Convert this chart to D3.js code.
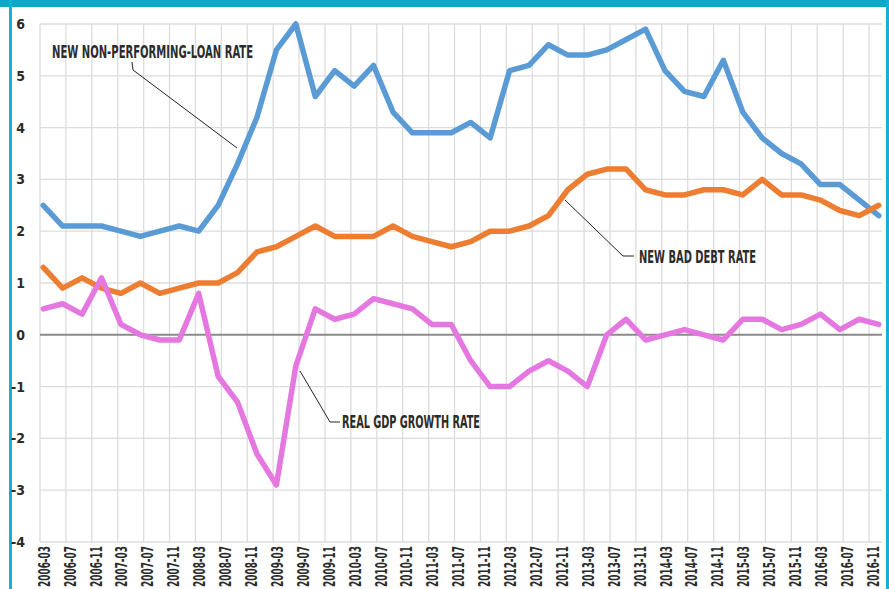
<!DOCTYPE html>
<html>
<head>
<meta charset="utf-8">
<script src="https://cdn.jsdelivr.net/npm/d3@7"></script>
<style>
  body { margin: 0; background: #fff; }
  text { font-family: "Liberation Sans Narrow", "DejaVu Sans Condensed", "Roboto", sans-serif; font-weight: bold; fill: #2b2b2b; }
</style>
</head>
<body>
<script>
// quarterly observations
const quarters = [
  "2006-03","2006-06","2006-09","2006-12","2007-03","2007-06","2007-09","2007-12",
  "2008-03","2008-06","2008-09","2008-12","2009-03","2009-06","2009-09","2009-12",
  "2010-03","2010-06","2010-09","2010-12","2011-03","2011-06","2011-09","2011-12",
  "2012-03","2012-06","2012-09","2012-12","2013-03","2013-06","2013-09","2013-12",
  "2014-03","2014-06","2014-09","2014-12","2015-03","2015-06","2015-09","2015-12",
  "2016-03","2016-06","2016-09","2016-12"
];
const nplRate = [
  2.5, 2.1, 2.1, 2.1, 2.0, 1.9, 2.0, 2.1, 2.0, 2.5, 3.3, 4.2, 5.5, 6.0, 4.6, 5.1,
  4.8, 5.2, 4.3, 3.9, 3.9, 3.9, 4.1, 3.8, 5.1, 5.2, 5.6, 5.4, 5.4, 5.5, 5.7, 5.9,
  5.1, 4.7, 4.6, 5.3, 4.3, 3.8, 3.5, 3.3, 2.9, 2.9, 2.6, 2.3
];
const badDebtRate = [
  1.3, 0.9, 1.1, 0.9, 0.8, 1.0, 0.8, 0.9, 1.0, 1.0, 1.2, 1.6, 1.7, 1.9, 2.1, 1.9,
  1.9, 1.9, 2.1, 1.9, 1.8, 1.7, 1.8, 2.0, 2.0, 2.1, 2.3, 2.8, 3.1, 3.2, 3.2, 2.8,
  2.7, 2.7, 2.8, 2.8, 2.7, 3.0, 2.7, 2.7, 2.6, 2.4, 2.3, 2.5
];
const gdpGrowth = [
  0.5, 0.6, 0.4, 1.1, 0.2, 0.0, -0.1, -0.1, 0.8, -0.8, -1.3, -2.3, -2.9, -0.6, 0.5, 0.3,
  0.4, 0.7, 0.6, 0.5, 0.2, 0.2, -0.5, -1.0, -1.0, -0.7, -0.5, -0.7, -1.0, 0.0, 0.3, -0.1,
  0.0, 0.1, 0.0, -0.1, 0.3, 0.3, 0.1, 0.2, 0.4, 0.1, 0.3, 0.2
];
const xTickLabels = [
  "2006-03","2006-07","2006-11","2007-03","2007-07","2007-11","2008-03","2008-07",
  "2008-11","2009-03","2009-07","2009-11","2010-03","2010-07","2010-11","2011-03",
  "2011-07","2011-11","2012-03","2012-07","2012-11","2013-03","2013-07","2013-11",
  "2014-03","2014-07","2014-11","2015-03","2015-07","2015-11","2016-03","2016-07","2016-11"
];
const yTicks = [-4, -3, -2, -1, 0, 1, 2, 3, 4, 5, 6];

const W = 889, H = 589;
const margin = { top: 24, right: 7, bottom: 47, left: 40 };

// months since 2006-03
const monthIndex = s => {
  const [y, m] = s.split("-").map(Number);
  return (y - 2006) * 12 + (m - 3);
};

const svg = d3.select("body").append("svg")
    .attr("width", W)
    .attr("height", H);

// frame
svg.append("rect").attr("x", 0).attr("y", 0).attr("width", W).attr("height", 7).attr("fill", "#0aa9c7");
svg.append("rect").attr("x", 9).attr("y", 0).attr("width", 3).attr("height", H).attr("fill", "#12b2d2");
svg.append("rect").attr("x", 886).attr("y", 0).attr("width", 3).attr("height", H).attr("fill", "#12b2d2");

const x = d3.scaleLinear()
    .domain([0, 130])
    .range([margin.left, W - margin.right]);

const y = d3.scaleLinear()
    .domain([-4, 6])
    .range([H - margin.bottom, margin.top]);

// grid
svg.append("g")
  .selectAll("line")
  .data(yTicks.filter(d => d !== 0))
  .join("line")
    .attr("x1", x(0)).attr("x2", x(130))
    .attr("y1", d => y(d)).attr("y2", d => y(d))
    .attr("stroke", "#dcdcdc")
    .attr("stroke-width", 1.3);

svg.append("g")
  .selectAll("line")
  .data(xTickLabels)
  .join("line")
    .attr("x1", d => x(monthIndex(d))).attr("x2", d => x(monthIndex(d)))
    .attr("y1", y(6)).attr("y2", y(-4))
    .attr("stroke", "#dcdcdc")
    .attr("stroke-width", 1.3);

// zero line
svg.append("line")
    .attr("x1", x(0)).attr("x2", x(130))
    .attr("y1", y(0)).attr("y2", y(0))
    .attr("stroke", "#8a8a8a")
    .attr("stroke-width", 2);

// y labels
svg.append("g")
  .selectAll("text")
  .data(yTicks)
  .join("text")
    .attr("x", 25)
    .attr("y", d => y(d))
    .attr("dy", "0.36em")
    .attr("text-anchor", "end")
    .style("font-size", "14px")
    .text(d => d);

// x labels (rotated, squeezed to fit under the axis)
svg.append("g")
  .selectAll("text")
  .data(xTickLabels)
  .join("text")
    .attr("transform", d => `translate(${x(monthIndex(d)) + 4},${y(-4) + 4}) rotate(-90)`)
    .attr("dy", "0.36em")
    .attr("text-anchor", "end")
    .attr("textLength", 41)
    .attr("lengthAdjust", "spacingAndGlyphs")
    .style("font-size", "16px")
    .text(d => d);

// series
const line = d3.line()
    .x((d, i) => x(monthIndex(quarters[i]) + 0.5))
    .y(d => y(d));

const series = [
  { values: nplRate, color: "#5b9bd5" },
  { values: badDebtRate, color: "#ed7d31" },
  { values: gdpGrowth, color: "#e577e0" }
];

series.forEach(s => {
  svg.append("path")
      .datum(s.values)
      .attr("fill", "none")
      .attr("stroke", s.color)
      .attr("stroke-width", 5.5)
      .attr("stroke-linejoin", "round")
      .attr("stroke-linecap", "round")
      .attr("d", line);
});

// annotations
const annot = svg.append("g");

annot.append("path")
    .attr("d", "M132,62 L133,70 L237,148")
    .attr("fill", "none").attr("stroke", "#222").attr("stroke-width", 1);
annot.append("text")
    .attr("x", 52).attr("y", 52).attr("dy", "0.36em")
    .attr("textLength", 201).attr("lengthAdjust", "spacingAndGlyphs")
    .style("font-size", "17px")
    .text("NEW NON-PERFORMING-LOAN RATE");

annot.append("path")
    .attr("d", "M565,200 L623,256 L634,256")
    .attr("fill", "none").attr("stroke", "#222").attr("stroke-width", 1);
annot.append("text")
    .attr("x", 639).attr("y", 257).attr("dy", "0.36em")
    .attr("textLength", 117).attr("lengthAdjust", "spacingAndGlyphs")
    .style("font-size", "17px")
    .text("NEW BAD DEBT RATE");

annot.append("path")
    .attr("d", "M300,371 L330,422 L340,422")
    .attr("fill", "none").attr("stroke", "#222").attr("stroke-width", 1);
annot.append("text")
    .attr("x", 342).attr("y", 422).attr("dy", "0.36em")
    .attr("textLength", 138).attr("lengthAdjust", "spacingAndGlyphs")
    .style("font-size", "17px")
    .text("REAL GDP GROWTH RATE");
</script>
</body>
</html>
